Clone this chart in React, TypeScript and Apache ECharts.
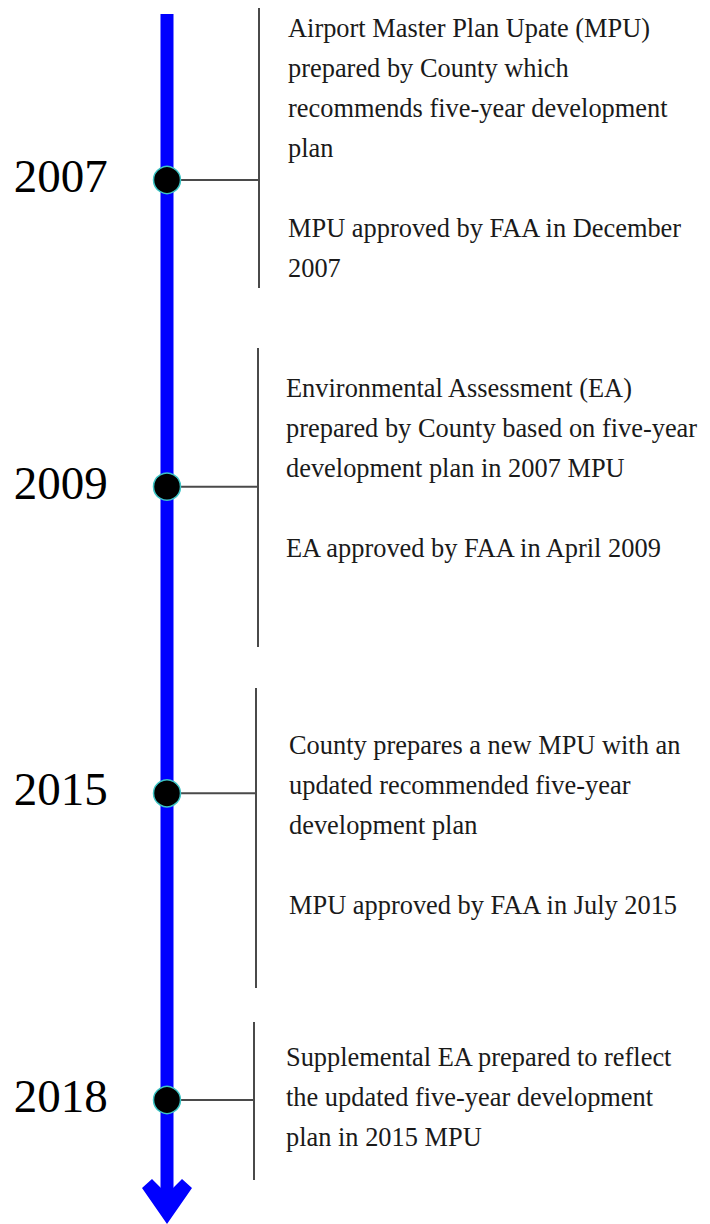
import React, { useEffect, useRef } from "react";
import * as echarts from "echarts";

// ---- data ----
const years = ["2007", "2009", "2015", "2018"];
const event2007 = [
  "Airport Master Plan Upate (MPU)",
  "prepared by County which",
  "recommends five-year development",
  "plan",
  "",
  "MPU approved by FAA in December",
  "2007",
];
const event2009 = [
  "Environmental Assessment (EA)",
  "prepared by County based on five-year",
  "development plan in 2007 MPU",
  "",
  "EA approved by FAA in April 2009",
];
const event2015 = [
  "County prepares a new MPU with an",
  "updated recommended five-year",
  "development plan",
  "",
  "MPU approved by FAA in July 2015",
];
const event2018 = [
  "Supplemental EA prepared to reflect",
  "the updated five-year development",
  "plan in 2015 MPU",
];
const eventTexts = [event2007, event2009, event2015, event2018];

// ---- layout (positions / sizes, not data) ----
const layout = [
  { bx: 259, top: 8, bottom: 288, tx: 288, ty: 8 },
  { bx: 258, top: 348, bottom: 647, tx: 286, ty: 368 },
  { bx: 256, top: 688, bottom: 988, tx: 289, ty: 725 },
  { bx: 254, top: 1022, bottom: 1180, tx: 286, ty: 1037 },
];
const SERIF = "Liberation Serif, serif";
const LINE_GRAY = "#4a4a4a";

export default function App() {
  const ref = useRef<HTMLDivElement>(null);
  useEffect(() => {
    if (!ref.current) return;
    const chart = echarts.init(ref.current, undefined, { renderer: "svg" });
    chart.setOption({
      animation: false,
      backgroundColor: "#ffffff",
      grid: { left: 167, right: 10, top: 180, bottom: 124 },
      xAxis: { type: "value", min: 0, max: 1, show: false },
      yAxis: {
        type: "category",
        data: years,
        inverse: true,
        boundaryGap: false,
        show: false,
      },
      series: [
        {
          type: "scatter",
          z: 5,
          data: years.map((y) => [0, y]),
          symbol: "circle",
          symbolSize: 27,
          itemStyle: { color: "#000000", borderColor: "#3cc4c4", borderWidth: 1.5, opacity: 1 },
          emphasis: { disabled: true },
          label: {
            show: true,
            position: "left",
            distance: 45,
            offset: [0, -4],
            formatter: (p: any) => p.value[1],
            fontSize: 47,
            fontFamily: SERIF,
            color: "#000000",
          },
        },
      ],
    });

    const pts = years.map((y) => chart.convertToPixel({ seriesIndex: 0 }, [0, y]) as number[]);

    const graphic: any[] = [];
    // timeline shaft
    graphic.push({
      type: "rect",
      z: 1,
      shape: { x: 160.5, y: 14, width: 13, height: 1186 },
      style: { fill: "#0000ff" },
    });
    // arrow head
    graphic.push({
      type: "polygon",
      z: 1,
      shape: {
        points: [
          [167, 1224],
          [142, 1188],
          [152, 1179],
          [167, 1194],
          [182, 1179],
          [192, 1188],
        ],
      },
      style: { fill: "#0000ff" },
    });
    layout.forEach((l, i) => {
      const p = pts[i];
      graphic.push({
        type: "line",
        z: 1,
        shape: { x1: p[0], y1: p[1], x2: l.bx, y2: p[1] },
        style: { stroke: LINE_GRAY, lineWidth: 2 },
      });
      graphic.push({
        type: "line",
        z: 1,
        shape: { x1: l.bx, y1: l.top, x2: l.bx, y2: l.bottom },
        style: { stroke: LINE_GRAY, lineWidth: 2 },
      });
      graphic.push({
        type: "text",
        z: 3,
        x: l.tx,
        y: l.ty,
        style: {
          text: eventTexts[i].join("\n"),
          fontSize: 26.4,
          fontFamily: SERIF,
          fill: "#1a1a1a",
          lineHeight: 40,
          verticalAlign: "top",
          align: "left",
        },
      });
    });
    chart.setOption({ graphic });

    return () => chart.dispose();
  }, []);
  return (
    <div
      ref={ref}
      style={{ position: "fixed", left: 0, top: 0, width: 710, height: 1224, background: "#fff" }}
    />
  );
}
